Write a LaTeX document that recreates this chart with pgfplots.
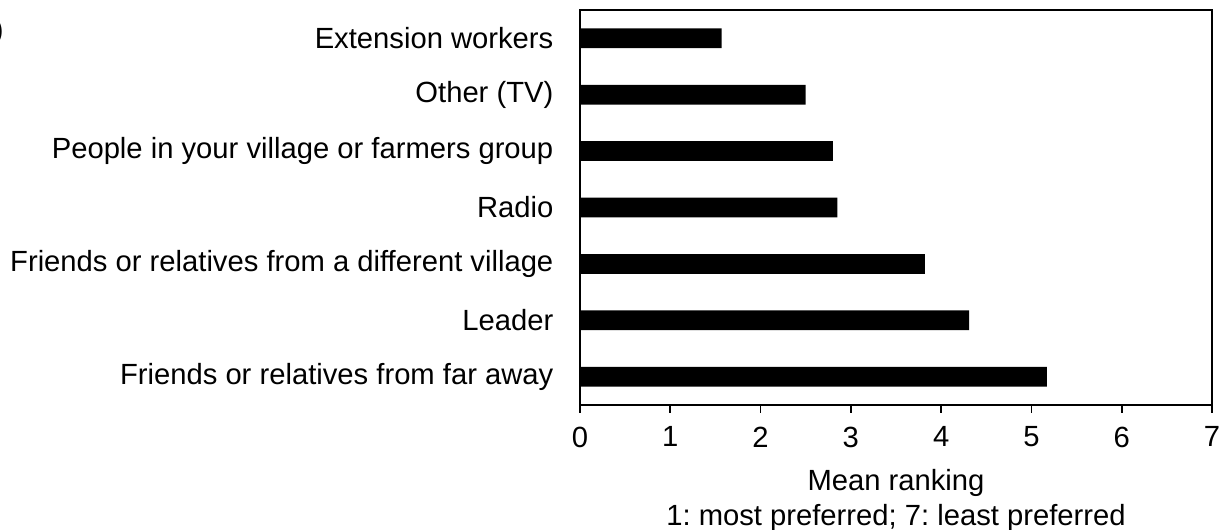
\documentclass[border=0pt]{standalone}
\usepackage{fontspec}
\setmainfont{Liberation Sans}
\usepackage{pgfplots}
\pgfplotsset{compat=1.18}
\frenchspacing
\begin{document}
\begin{tikzpicture}
\useasboundingbox (0,0) rectangle (613.5pt,265pt);
\node[anchor=base east, inner sep=0pt, font=\fontsize{14.6}{17}\selectfont] at (2pt,245pt) {b)};
\begin{axis}[
  at={(290pt,62.5pt)}, anchor=south west,
  width=316pt, height=197.5pt, scale only axis,
  xbar, bar width=0.35,
  xmin=0, xmax=7, ymin=-0.5, ymax=6.5,
  xtick={0,...,7}, ytick={0,...,6},
  yticklabels={Friends or relatives from far away, Leader, Friends or relatives from a different village, Radio, People in your village or farmers group, Other (TV), Extension workers},
  xtick pos=bottom, xtick align=outside, major tick length=3.8pt,
  ytick style={draw=none},
  axis line style={line width=0.8pt, black},
  tick style={line width=0.8pt, black},
  ticklabel style={font=\fontsize{14.6}{17}\selectfont},
  /pgf/number format/assume math mode=true,
  yticklabel style={xshift=-6pt},
  xticklabel style={yshift=-3.5pt},
  xlabel={Mean ranking\\1: most preferred; 7: least preferred},
  xlabel style={at={(axis description cs:0.5,0)}, anchor=north, yshift=-28.5pt, align=center, font=\fontsize{14.6}{17.8}\selectfont},
]
\addplot[fill=black, draw=none] coordinates {(5.17,0) (4.31,1) (3.82,2) (2.85,3) (2.80,4) (2.50,5) (1.57,6)};
\end{axis}
\end{tikzpicture}
\end{document}
